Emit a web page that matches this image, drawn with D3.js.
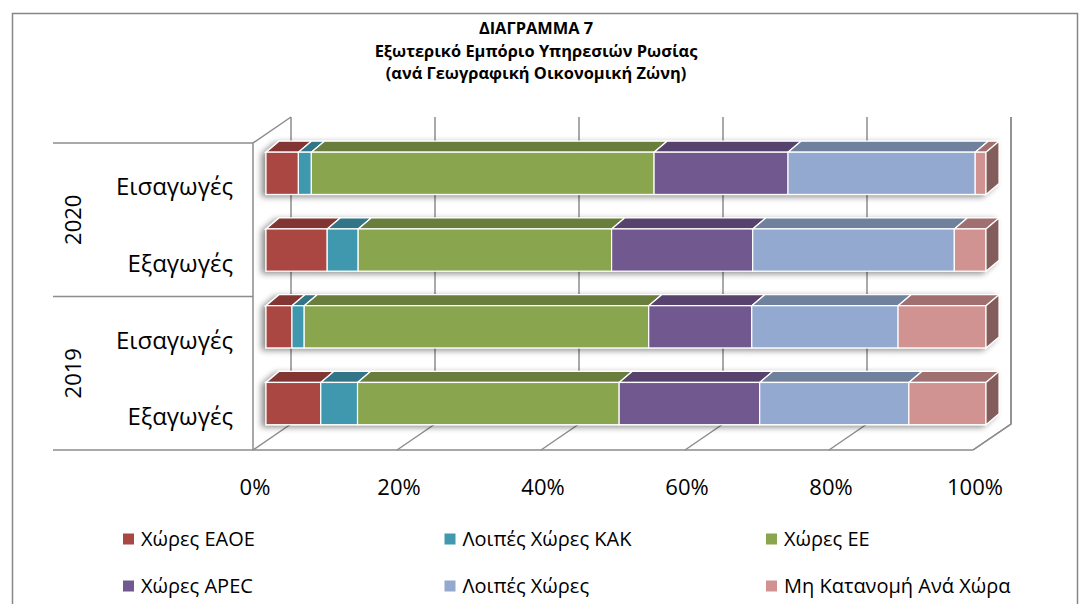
<!DOCTYPE html>
<html>
<head>
<meta charset="utf-8">
<script src="https://cdn.jsdelivr.net/npm/d3@7"></script>
<style>
  body { margin: 0; background: #fff; }
  text { font-family: "Open Sans", sans-serif; fill: #000; }
</style>
</head>
<body>
<div id="chart"></div>
<script>
// ---- data (percent shares) ----
var categories = ["2020 Εισαγωγές", "2020 Εξαγωγές", "2019 Εισαγωγές", "2019 Εξαγωγές"];
var catLabels  = ["Εισαγωγές", "Εξαγωγές", "Εισαγωγές", "Εξαγωγές"];
var years      = ["2020", "2019"];
var seriesNames = ["Χώρες ΕΑΟΕ", "Λοιπές Χώρες ΚΑΚ", "Χώρες ΕΕ", "Χώρες APEC", "Λοιπές Χώρες", "Μη Κατανομή Ανά Χώρα"];
var eaoe    = [4.5, 8.5, 3.6, 7.6];
var kak     = [1.8, 4.3, 1.7, 5.1];
var ee      = [47.6, 35.2, 47.8, 36.3];
var apec    = [18.6, 19.6, 14.3, 19.5];
var other   = [26.0, 28.0, 20.3, 20.7];
var unalloc = [1.5, 4.4, 12.2, 10.7];
var tickLabels = ["0%", "20%", "40%", "60%", "80%", "100%"];
var titleLines = ["ΔΙΑΓΡΑΜΜΑ 7", "Εξωτερικό Εμπόριο Υπηρεσιών Ρωσίας", "(ανά Γεωγραφική Οικονομική Ζώνη)"];

var colors = ["#AA4643", "#4198AF", "#89A54E", "#71588F", "#93A9CF", "#D19392"];

// build rows for d3.stack
var rows = categories.map(function(c, i) {
  var r = {cat: c};
  [eaoe, kak, ee, apec, other, unalloc].forEach(function(arr, j) { r[seriesNames[j]] = arr[i]; });
  return r;
});

var W = 1089, H = 604;
var svg = d3.select("#chart").append("svg")
  .attr("width", W).attr("height", H);

var defs = svg.append("defs");
var shadow = defs.append("filter").attr("id", "shadow")
  .attr("x", "-5%").attr("y", "-30%").attr("width", "110%").attr("height", "160%");
shadow.append("feGaussianBlur").attr("in", "SourceAlpha").attr("stdDeviation", 3).attr("result", "b");
shadow.append("feOffset").attr("in", "b").attr("dx", -4).attr("dy", 2).attr("result", "o");
shadow.append("feComponentTransfer").attr("in", "o").attr("result", "s")
  .append("feFuncA").attr("type", "linear").attr("slope", 0.45);
var merge = shadow.append("feMerge");
merge.append("feMergeNode").attr("in", "s");
merge.append("feMergeNode").attr("in", "SourceGraphic");

// outer chart border
svg.append("rect")
  .attr("x", 12.5).attr("y", 13.5).attr("width", 1065).attr("height", 620)
  .attr("fill", "none").attr("stroke", "#878787").attr("stroke-width", 1.5);

// title (one text per line)
svg.append("g").selectAll("text").data(titleLines).enter().append("text")
  .attr("x", 536).attr("y", function(d, i) { return 34 + i * 22.5; })
  .attr("text-anchor", "middle")
  .style("font-weight", "bold").style("font-size", "16.4px")
  .text(function(d) { return d; });

// ---- scales and 3D geometry ----
var x = d3.scaleLinear().domain([0, 1]).range([253, 973]);   // front plane
var y = d3.scaleBand().domain(categories).range([143, 450]);  // front plane
var DX = 38, DY = -26;       // depth offset of back wall
var BX = 13, BDX = 13, BDY = -11;  // bar front offset and bar depth
var yTop = 143, yBot = 450;
var step = y.step();

var grid = svg.append("g").attr("stroke", "#8c8c8c").attr("stroke-width", 1.5).attr("fill", "none");
var ticks = d3.range(0, 1.0001, 0.2);

// back wall vertical gridlines
grid.selectAll("line.v").data(ticks).enter().append("line")
  .attr("x1", function(d) { return x(d) + DX; }).attr("x2", function(d) { return x(d) + DX; })
  .attr("y1", yTop + DY).attr("y2", yBot + DY);
// floor diagonals
grid.selectAll("line.f").data(ticks).enter().append("line")
  .attr("x1", function(d) { return x(d); }).attr("y1", yBot)
  .attr("x2", function(d) { return x(d) + DX; }).attr("y2", yBot + DY);
// floor front edge and left wall outline
grid.append("path")
  .attr("d", "M" + x(0) + "," + yBot + "H" + x(1) +
             "M" + x(0) + "," + yBot + "V" + yTop + "L" + (x(0) + DX) + "," + (yTop + DY));

// category separators + year labels
var sep = [yTop, (yTop + yBot) / 2, yBot];
svg.append("g").selectAll("line").data(sep).enter().append("line")
  .attr("x1", 53).attr("x2", x(0)).attr("y1", function(d) { return d; }).attr("y2", function(d) { return d; })
  .attr("stroke", "#8c8c8c").attr("stroke-width", 1.5);

svg.append("g").selectAll("text").data(years).enter().append("text")
  .attr("transform", function(d, i) { return "translate(81," + ((sep[i] + sep[i + 1]) / 2) + ") rotate(-90)"; })
  .attr("text-anchor", "middle").style("font-size", "22px")
  .text(function(d) { return d; });

svg.append("g").selectAll("text").data(categories).enter().append("text")
  .attr("x", 233).attr("y", function(d) { return y(d) + step * 0.57; })
  .attr("dy", "0.35em").attr("text-anchor", "end").style("font-size", "24px")
  .text(function(d, i) { return catLabels[i]; });

// x labels on the floor front edge
svg.append("g").selectAll("text").data(ticks).enter().append("text")
  .attr("x", function(d) { return x(d) + 2; }).attr("y", 495)
  .attr("text-anchor", "middle").style("font-size", "22px")
  .text(function(d, i) { return tickLabels[i]; });

// ---- stacked 3D bars ----
var stacked = d3.stack().keys(seriesNames).offset(d3.stackOffsetExpand)(rows);

var barH = step * 0.55, barOff = step * 0.12;
var bars = svg.append("g").attr("filter", "url(#shadow)");

categories.forEach(function(c, ci) {
  var g = bars.append("g");
  var y0 = y(c) + barOff, y1 = y0 + barH;
  stacked.forEach(function(s, si) {
    var d = s[ci];
    var xa = x(d[0]) + BX, xb = x(d[1]) + BX;
    var col = d3.color(colors[si]);
    // top face
    g.append("path")
      .attr("d", "M" + xa + "," + y0 + "L" + (xa + BDX) + "," + (y0 + BDY) +
                 "L" + (xb + BDX) + "," + (y0 + BDY) + "L" + xb + "," + y0 + "Z")
      .attr("fill", col.darker(0.75)).attr("stroke", "#fff").attr("stroke-width", 1.2);
    // front face
    g.append("rect")
      .attr("x", xa).attr("y", y0).attr("width", xb - xa).attr("height", barH)
      .attr("fill", colors[si]).attr("stroke", "#fff").attr("stroke-width", 1.2);
    // right side of last segment
    if (si === stacked.length - 1) {
      g.append("path")
        .attr("d", "M" + xb + "," + y0 + "L" + (xb + BDX) + "," + (y0 + BDY) +
                   "L" + (xb + BDX) + "," + (y1 + BDY) + "L" + xb + "," + y1 + "Z")
        .attr("fill", col.darker(1.3)).attr("stroke", "#fff").attr("stroke-width", 1.2);
    }
  });
});

// right wall edge
svg.append("path")
  .attr("d", "M" + (x(1) + DX) + "," + (yTop + DY) + "V" + (yBot + DY) + "L" + x(1) + "," + yBot)
  .attr("fill", "none").attr("stroke", "#8c8c8c").attr("stroke-width", 1.5);
bars.raise();

// ---- legend ----
var legend = svg.append("g").selectAll("g").data(seriesNames).enter().append("g")
  .attr("transform", function(d, i) { return "translate(" + (123 + (i % 3) * 321.5) + "," + (539 + Math.floor(i / 3) * 47) + ")"; });
legend.append("rect").attr("x", 0).attr("y", -5.5).attr("width", 11).attr("height", 11)
  .attr("fill", function(d, i) { return colors[i]; });
legend.append("text").attr("x", 18).attr("dy", "0.35em").style("font-size", "20px")
  .text(function(d) { return d; });
</script>
</body>
</html>
